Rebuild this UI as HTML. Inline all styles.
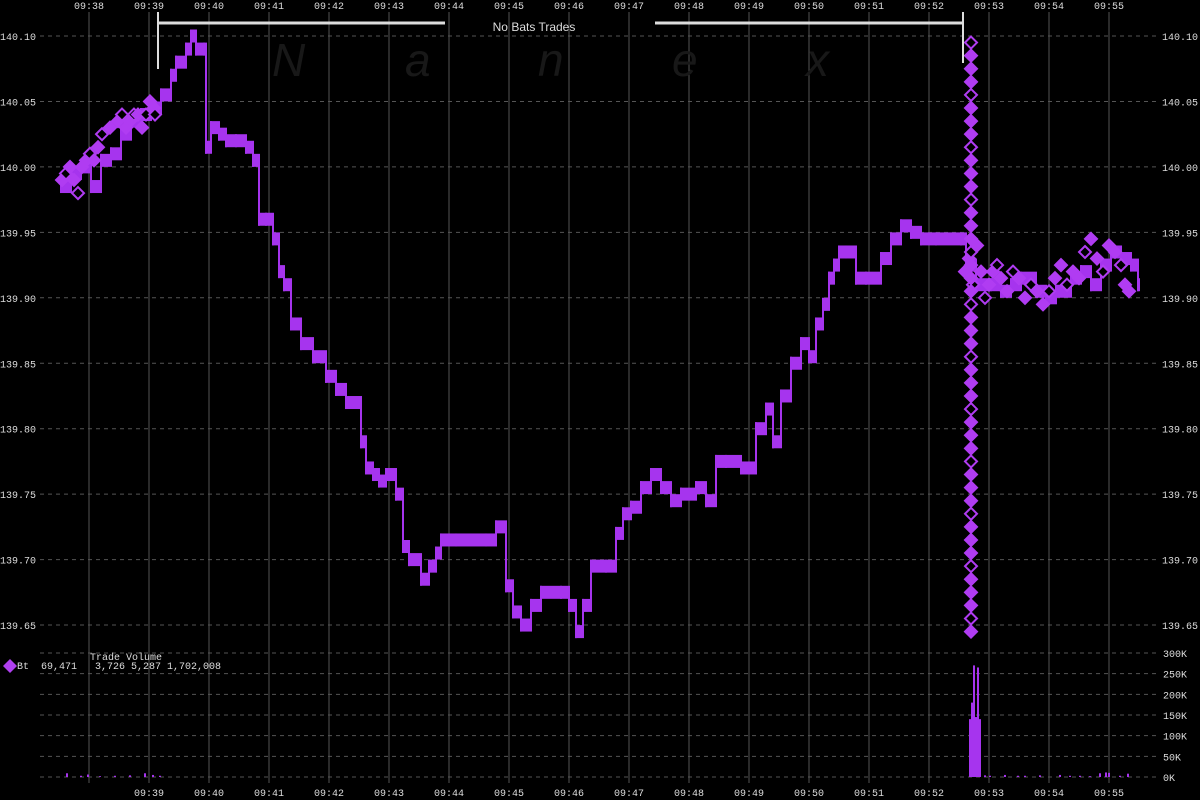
<!DOCTYPE html>
<html><head><meta charset="utf-8"><style>
html,body{margin:0;padding:0;background:#000;width:1200px;height:800px;overflow:hidden}
svg{display:block}
text{font-family:"Liberation Mono","DejaVu Sans Mono",monospace;font-size:10px;fill:#ddd;white-space:pre}
</style></head><body>
<svg id="chart" width="1200" height="800">
<g id="grid"></g>
<g id="wm">
<text x="272" y="76" style="font-family:'Liberation Sans',sans-serif;font-size:46px;font-style:italic;fill:#181818">N</text>
<text x="405" y="76" style="font-family:'Liberation Sans',sans-serif;font-size:46px;font-style:italic;fill:#181818">a</text>
<text x="538" y="76" style="font-family:'Liberation Sans',sans-serif;font-size:46px;font-style:italic;fill:#181818">n</text>
<text x="672" y="76" style="font-family:'Liberation Sans',sans-serif;font-size:46px;font-style:italic;fill:#181818">e</text>
<text x="806" y="76" style="font-family:'Liberation Sans',sans-serif;font-size:46px;font-style:italic;fill:#181818">x</text>
</g>
<g id="marks"></g>
<g id="vol"></g>
<g id="ann">
<line x1="158" y1="23" x2="445" y2="23" stroke="#ddd" stroke-width="3"/>
<line x1="655" y1="23" x2="963" y2="23" stroke="#ddd" stroke-width="3"/>
<line x1="158" y1="12" x2="158" y2="69" stroke="#ddd" stroke-width="2"/>
<line x1="963" y1="12" x2="963" y2="63" stroke="#ddd" stroke-width="2"/>
<text x="534" y="31" text-anchor="middle" style="font-family:'Liberation Sans',sans-serif;font-size:12px">No Bats Trades</text>
</g>
<g>
<polygon points="10,659 17,666 10,673 3,666" fill="#b040f0"/>
<text x="17" y="669" xml:space="preserve">Bt  69,471   3,726 5,287 1,702,008</text>
<text x="90" y="660">Trade Volume</text>
</g>
</svg>
<script>
// time in seconds after 09:38, price values
const priceTimes=[-29,-19,-9,1,11,21,31,41,51,61,71,81,86,96,101,106,114,116,121,129,136,146,156,163,169,176,183,189,194,201,211,223,236,246,256,271,276,283,289,296,306,313,319,331,339,346,351,366,396,406,416,423,431,441,451,471,479,486,493,501,516,526,533,541,551,561,571,581,591,606,616,626,636,651,666,676,683,691,701,711,719,726,733,739,744,749,756,766,776,791,801,811,821,831,846,871,876,886,901,911,921,931,946,956,966,981,991,1001,1011,1021,1031,1041,1048];
const priceVals=[139.985,139.995,140.000,139.985,140.005,140.010,140.025,140.035,140.040,140.045,140.055,140.070,140.080,140.090,140.100,140.090,140.090,140.015,140.030,140.025,140.020,140.020,140.015,140.005,139.960,139.960,139.945,139.920,139.910,139.880,139.865,139.855,139.840,139.830,139.820,139.790,139.770,139.765,139.760,139.765,139.750,139.710,139.700,139.685,139.695,139.705,139.715,139.715,139.715,139.725,139.680,139.660,139.650,139.665,139.675,139.675,139.665,139.645,139.665,139.695,139.695,139.720,139.735,139.740,139.755,139.765,139.755,139.745,139.750,139.755,139.745,139.775,139.775,139.770,139.800,139.815,139.790,139.825,139.850,139.865,139.855,139.880,139.895,139.915,139.925,139.935,139.935,139.915,139.915,139.930,139.945,139.955,139.950,139.945,139.945,139.945,139.925,139.910,139.910,139.905,139.910,139.915,139.905,139.900,139.905,139.915,139.920,139.910,139.925,139.935,139.930,139.925,139.910];
const diaTimes=[-27,-23,-19,-15,-11,-7,-3,1,5,9,13,21,29,33,37,41,45,49,53,57,61,65,66,876,880,884,888,892,896,900,904,908,912,918,924,930,936,942,948,954,960,966,972,978,984,990,996,1002,1008,1014,1020,1026,1032,1036,1040];
const diaVals=[139.990,139.995,140.000,139.990,139.980,140.000,140.005,140.010,140.005,140.015,140.025,140.030,140.035,140.040,140.030,140.035,140.040,140.040,140.030,140.040,140.050,140.045,140.040,139.920,139.930,139.910,139.940,139.920,139.900,139.910,139.920,139.925,139.915,139.905,139.920,139.915,139.900,139.910,139.905,139.895,139.905,139.915,139.925,139.910,139.920,139.915,139.935,139.945,139.930,139.920,139.940,139.935,139.925,139.910,139.905];
const colTime=882;
const colVals=[140.095,140.085,140.075,140.065,140.055,140.045,140.035,140.025,140.015,140.005,139.995,139.985,139.975,139.965,139.955,139.945,139.935,139.925,139.915,139.905,139.895,139.885,139.875,139.865,139.855,139.845,139.835,139.825,139.815,139.805,139.795,139.785,139.775,139.765,139.755,139.745,139.735,139.725,139.715,139.705,139.695,139.685,139.675,139.665,139.655,139.645];
const volTimes=[-23,-9,-2,10,25,40,55,63,70,880,882,884,886,888,890,895,900,915,928,935,950,970,980,990,1000,1010,1016,1019,1030,1038];
const volVals=[9000,3000,6000,2000,3000,4000,9000,5000,3000,140000,180000,270000,145000,265000,140000,4000,3000,5000,3000,3000,4000,5000,3000,3000,2000,9000,11000,10000,3000,8000];
const priceTicks=[140.10,140.05,140.00,139.95,139.90,139.85,139.80,139.75,139.70,139.65];
const volTicks=[0,50000,100000,150000,200000,250000,300000];
const volTickLabels=["0K","50K","100K","150K","200K","250K","300K"];
const minuteLabels=["09:38","09:39","09:40","09:41","09:42","09:43","09:44","09:45","09:46","09:47","09:48","09:49","09:50","09:51","09:52","09:53","09:54","09:55"];

const NS="http://www.w3.org/2000/svg";
const X=s=>89+s;
const Y=p=>36+(140.10-p)*1309;
const VY=v=>777-v*124/300000;
function mk(tag,attrs,parent){const e=document.createElementNS(NS,tag);for(const k in attrs)e.setAttribute(k,attrs[k]);parent.appendChild(e);return e;}
const grid=document.getElementById('grid'),marks=document.getElementById('marks'),vol=document.getElementById('vol');
const PURPLE="#a634ee";

minuteLabels.forEach((lab,i)=>{
  const x=X(i*60);
  const l=mk('line',{x1:x,y1:12,x2:x,y2:783,stroke:'#555','stroke-width':1},grid);
  
  
  const t=mk('text',{x:x,y:9,'text-anchor':'middle'},grid);t.textContent=lab;
  
  
  if(i>0){const b=mk('text',{x:x,y:796,'text-anchor':'middle'},grid);b.textContent=lab;
  
  }
});
priceTicks.forEach(p=>{
  const y=Y(p);
  const l=mk('line',{x1:40,y1:y,x2:1158,y2:y,stroke:'#555','stroke-dasharray':'4,4'},grid);
  
  
  const a=mk('text',{x:0,y:y+4},grid);a.textContent=p.toFixed(2);
  
  
  const b=mk('text',{x:1162,y:y+4},grid);b.textContent=p.toFixed(2);
  
  
});
volTicks.forEach((v,i)=>{
  const y=VY(v);
  const l=mk('line',{x1:40,y1:y,x2:1158,y2:y,stroke:'#555','stroke-dasharray':'4,4'},grid);
  
  
  const t=mk('text',{x:1163,y:y+4},grid);t.textContent=volTickLabels[i];
  
  
});
for(let i=0;i<priceTimes.length;i++){
  const x1=X(priceTimes[i]);const x2=i<priceTimes.length-1?X(priceTimes[i+1]):x1+3;
  const y=Y(priceVals[i]);
  const r=mk('rect',{x:x1,y:y-6.5,width:Math.max(2,x2-x1),height:13,fill:PURPLE},marks);
  
  
  if(i>0){const yp=Y(priceVals[i-1]);
    const v=mk('rect',{x:x1,y:Math.min(y,yp)-6.5,width:2,height:Math.abs(y-yp)+13,fill:PURPLE},marks);
    
    }
}
function diamond(x,y,r,filled){
  const d=mk('polygon',{points:`${x},${y-r} ${x+r},${y} ${x},${y+r} ${x-r},${y}`,fill:filled?'#b03cf2':'#000',stroke:'#b03cf2','stroke-width':2},marks);
  
  
}
diaTimes.forEach((t,i)=>diamond(X(t),Y(diaVals[i]),6,i%3!==1));
colVals.forEach((p,i)=>diamond(X(colTime),Y(p),6,i%4!==0));
volTimes.forEach((t,i)=>{
  const y=VY(volVals[i]);
  const r=mk('rect',{x:X(t),y:y,width:2,height:777-y,fill:PURPLE},vol);
  
  
});
</script>
</body></html>
